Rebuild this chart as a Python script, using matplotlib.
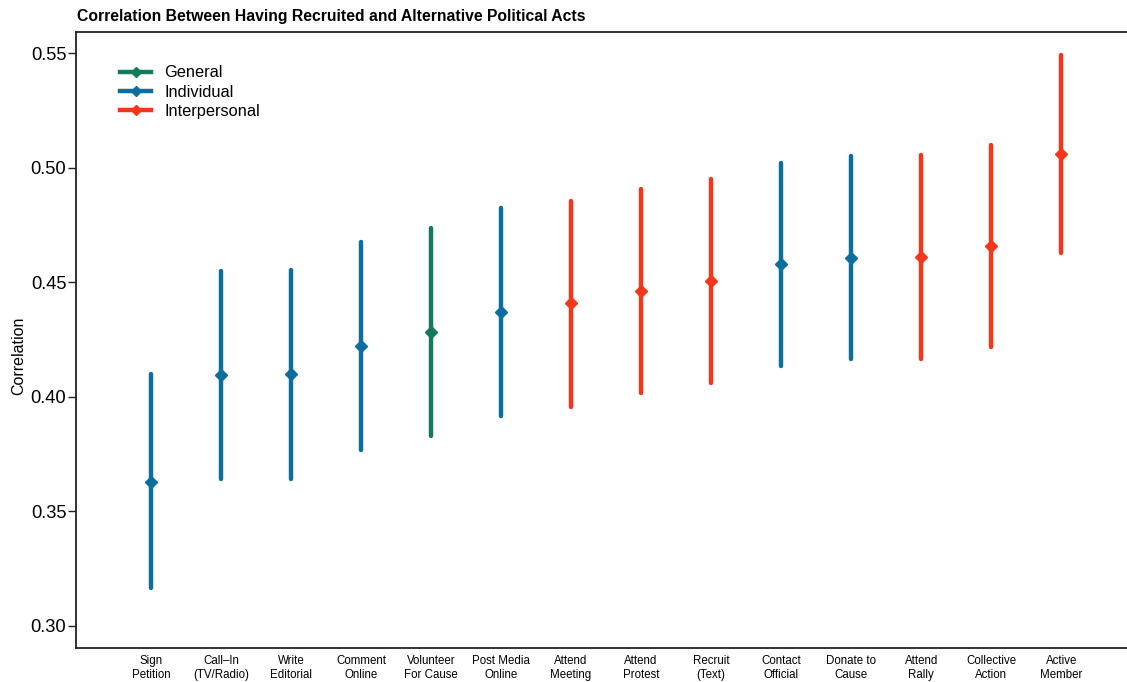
import numpy as np
import matplotlib
matplotlib.use("Agg")
import matplotlib.pyplot as plt
from matplotlib.lines import Line2D

plt.rcParams['font.family'] = ['Liberation Sans', 'DejaVu Sans']

# Political acts, ordered by estimated correlation
acts = ['Sign\nPetition', 'Call\u2013In\n(TV/Radio)', 'Write\nEditorial', 'Comment\nOnline',
        'Volunteer\nFor Cause', 'Post Media\nOnline', 'Attend\nMeeting', 'Attend\nProtest',
        'Recruit\n(Text)', 'Contact\nOfficial', 'Donate to\nCause', 'Attend\nRally',
        'Collective\nAction', 'Active\nMember']
act_type = ['Individual', 'Individual', 'Individual', 'Individual', 'General', 'Individual',
            'Interpersonal', 'Interpersonal', 'Interpersonal', 'Individual', 'Individual',
            'Interpersonal', 'Interpersonal', 'Interpersonal']
estimate = [0.3628, 0.4094, 0.4097, 0.4222, 0.4282, 0.4369, 0.4407, 0.4459,
            0.4503, 0.4577, 0.4606, 0.4609, 0.4657, 0.5058]
lower = [0.3162, 0.3638, 0.3641, 0.3766, 0.3828, 0.3915, 0.3955, 0.4014,
         0.4058, 0.4133, 0.4162, 0.4165, 0.4215, 0.4628]
upper = [0.4097, 0.4549, 0.4552, 0.4676, 0.4736, 0.4823, 0.4855, 0.4906,
         0.4950, 0.5021, 0.5050, 0.5053, 0.5098, 0.5491]

type_colors = {'General': '#137a5c', 'Individual': '#0b6e9c', 'Interpersonal': '#f4361b'}
legend_order = ['General', 'Individual', 'Interpersonal']

fig = plt.figure(figsize=(11.27, 6.82), dpi=100)
ax = fig.add_axes([76 / 1127, 1 - 648 / 682, 1056 / 1127, 616 / 682])

x = np.arange(len(acts))
for i in range(len(acts)):
    c = type_colors[act_type[i]]
    ax.plot([x[i], x[i]], [lower[i], upper[i]], color=c, lw=3.2, solid_capstyle='round')
    ax.plot(x[i], estimate[i], marker='D', ms=6, color=c, mec=c)

ax.set_xlim(-1.071, 14.01)
ax.set_ylim(0.2902, 0.5592)
ax.set_xticks(x)
ax.set_xticklabels(acts, fontsize=8.3, linespacing=1.2)
ax.tick_params(axis='x', length=0, pad=5)
ax.set_yticks([0.30, 0.35, 0.40, 0.45, 0.50, 0.55])
ax.set_yticklabels(['0.30', '0.35', '0.40', '0.45', '0.50', '0.55'])
ax.tick_params(axis='y', labelsize=13.2, length=6, width=1, direction='out', pad=1, color='#222222')
ax.set_ylabel('Correlation', fontsize=11.5)
ax.yaxis.set_label_coords(-0.047, 0.475)

for side in ['left', 'top', 'bottom', 'right']:
    ax.spines[side].set_linewidth(1.3)
    ax.spines[side].set_color('#222222')

handles = [Line2D([0], [0], color=type_colors[t], lw=3.2, marker='D', ms=5.5) for t in legend_order]
ax.legend(handles, legend_order, loc='upper left', bbox_to_anchor=(0.0417, 0.946),
          frameon=False, fontsize=11.8, handlelength=1.9, handletextpad=0.8,
          labelspacing=0.27, borderpad=0, borderaxespad=0)

fig.text(77 / 1127, 1 - 16 / 682, 'Correlation Between Having Recruited and Alternative Political Acts',
         fontsize=11.3, fontweight='bold', ha='left', va='center')

fig.savefig('out.png', dpi=100)
